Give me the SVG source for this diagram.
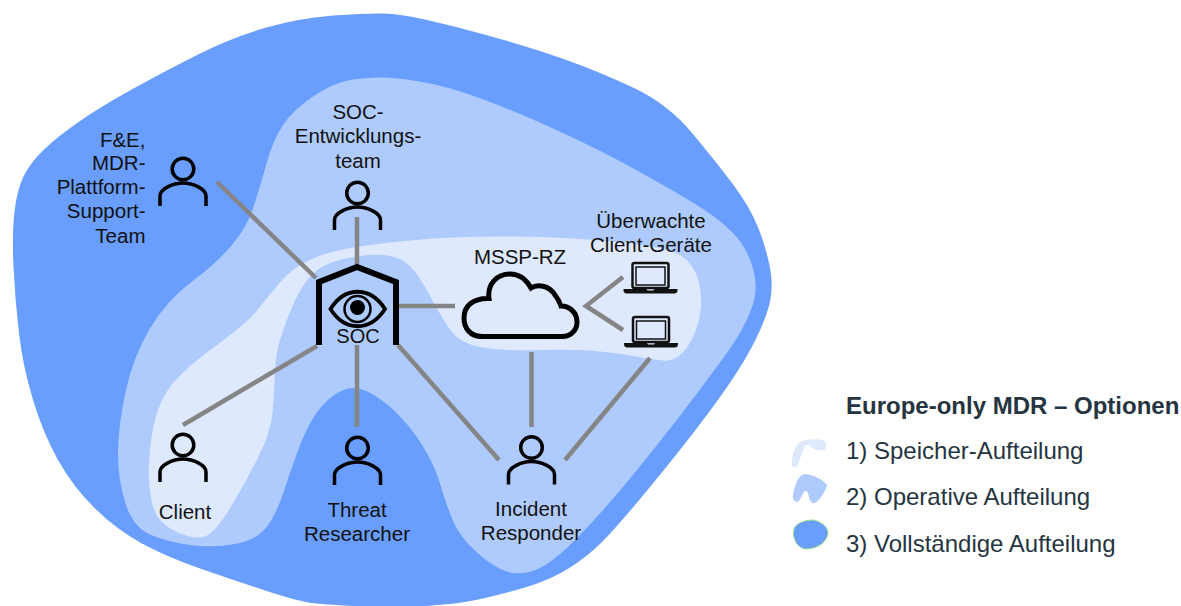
<svg xmlns="http://www.w3.org/2000/svg" width="1181" height="606" viewBox="0 0 1181 606">
<style>
text{font-family:"Liberation Sans",Arial,sans-serif;font-size:20.5px;fill:#111;text-anchor:middle}
.r{text-anchor:end}
.lg{fill:#25343f;text-anchor:start;font-size:24px}
.c{stroke:#858585;stroke-width:4.500;fill:none}
.p{fill:none;stroke:#000;stroke-width:3.500}
.lap{fill:none;stroke:#111}
</style>
<defs>
<g id="person"><circle cx="0" cy="0" r="10.800" class="p"/><path class="p" d="M-23 37V27C-23 20-10 14 0 14C10 14 23 20 23 27V37"/></g>
<g id="laptop"><rect x="-18" y="-24" width="36" height="25" rx="2" class="lap" stroke-width="2.500"/><rect x="-14.500" y="-20" width="29" height="18" class="lap" stroke-width="1.500"/><path d="M-27 2H-4L-3 3.500H3L4 2H27V3C27 5 26 6.500 24 6.500H-24C-26 6.500-27 5-27 3Z" fill="#111"/></g>
</defs>
<g id="regions">
<path fill="#699eff" d="M13.500 266.500Q12 233 14.500 211.500Q17 190 23.500 176.500Q30 163 43.500 150Q57 137 78.500 122Q100 107 133.500 88.500Q167 70 200 53.500Q233 37 266.500 27.500Q300 18 333.500 15.500Q367 13 383.500 13.500Q400 14 425 19.500Q450 25 491.500 36.500Q533 48 566.500 60Q600 72 634 88Q668 104 692.500 133.500Q717 163 733.500 185Q750 207 758.500 228.500Q767 250 770.500 271Q774 292 767 312.500Q760 333 746.500 356.500Q733 380 708 413.500Q683 447 650 487Q617 527 602 542Q587 557 568.500 568.500Q550 580 525 587.500Q500 595 478.500 599.500Q457 604 426 606Q395 608 364 606.500Q333 605 316.500 603.500Q300 602 266.500 591Q233 580 200 568.500Q167 557 142 543.500Q117 530 95 508.500Q73 487 58 460Q43 433 33 400Q23 367 19 333.500Q15 300 13.500 266.500Z"/>
<path fill="#afcbfe" d="M350 80Q367 77 383.500 77.500Q400 78 425 82.500Q450 87 483.500 99.500Q517 112 558.500 131Q600 150 633.500 168.500Q667 187 692 202Q717 217 732 232Q747 247 753 268.500Q759 290 751 310Q743 330 730 348.500Q717 367 692 400Q667 433 637 470Q607 507 580 535Q553 563 536.500 569.500Q520 576 506.500 571.500Q493 567 476.500 552Q460 537 453.500 522Q447 507 440 483.500Q433 460 416.500 436.500Q400 413 380 399Q360 385 346.500 389Q333 393 321.500 406.500Q310 420 301.500 441.500Q293 463 285 488Q277 513 267 526.500Q257 540 235 544Q213 548 190 545Q167 542 150 534.500Q133 527 125.500 503.500Q118 480 118 453.500Q118 427 125.500 392Q133 357 150 328.500Q167 300 192 281.500Q217 263 232 245Q247 227 253.500 207Q260 187 266.500 163.500Q273 140 283 125Q293 110 313 96.500Q333 83 350 80Z"/>
<path fill="#dfe9fe" d="M152.500 505Q148 487 149 463.500Q150 440 155 420Q160 400 171.500 385Q183 370 215 346.500Q247 323 257 310.500Q267 298 280 282.500Q293 267 313 258.500Q333 250 366.500 245.500Q400 241 433.500 238.500Q467 236 517 236.500Q567 237 617 242Q667 247 680 255Q693 263 698 279Q703 295 700 314Q697 333 687 347.500Q677 362 663.500 360.500Q650 359 633.500 356Q617 353 595 351Q573 349 536.500 350Q500 351 480 347Q460 343 451.500 331.500Q443 320 431.500 298.500Q420 277 411.500 267.500Q403 258 388 255.500Q373 253 348 258Q323 263 311.500 275Q300 287 290 312Q280 337 277.500 350Q275 363 274.500 381.500Q274 400 272 416.500Q270 433 258.500 456.500Q247 480 232 505Q217 530 207 535.500Q197 541 177 532Q157 523 152.500 505Z"/>
</g>
<g id="connectors">
<path class="c" d="M217 182L316 278"/>
<path class="c" d="M357 217V264"/>
<path class="c" d="M398 306H455"/>
<path class="c" d="M317 346L183 425"/>
<path class="c" d="M357 345V427"/>
<path class="c" d="M398 345L499 460"/>
<path class="c" d="M531.500 352V427"/>
<path class="c" d="M650 358L565 460"/>
<path class="c" d="M623 277L586 306L623 330"/>
</g>
<g id="soc">
<path fill="none" stroke="#000" stroke-width="6" d="M319 345V282L357 267L396 282V345"/>
<path fill="none" stroke="#000" stroke-width="3.800" d="M330.500 309C345 286 370 286 385 309C370 332 345 332 330.500 309Z"/>
<circle cx="357.500" cy="309" r="13" fill="none" stroke="#000" stroke-width="2.500"/>
<circle cx="357.500" cy="307.500" r="7.500" fill="#000"/>
<text x="358" y="343" style="font-size:20px">SOC</text>
</g>
<g id="fe"><use href="#person" x="183" y="169"/><text class="r" x="145.500" y="147">F&amp;E,</text><text class="r" x="145.500" y="170">MDR-</text><text class="r" x="145.500" y="194">Plattform-</text><text class="r" x="145.500" y="218">Support-</text><text class="r" x="145.500" y="243">Team</text></g>
<g id="dev"><use href="#person" x="357.500" y="193"/><text x="358" y="119">SOC-</text><text x="358" y="143">Entwicklungs-</text><text x="358" y="168">team</text></g>
<g id="mssp"><text x="520" y="264">MSSP-RZ</text><path fill="none" stroke="#000" stroke-width="5" d="M482 336.500C470 336.500 464 328 464 318C464 306 473 298 489 298.500C487 284 497 274 510 274C519 274 526 279 531 288C537 284 549 285 555 295C559 300 560 303 561 306C570 306 577 313 577 322C577 331 570 336.500 562 336.500Z"/></g>
<g id="clients"><text x="651" y="228">Überwachte</text><text x="651" y="252">Client-Geräte</text><use href="#laptop" x="650.500" y="287"/><use href="#laptop" x="651" y="341"/></g>
<g id="client"><use href="#person" x="183" y="445"/><text x="185" y="518.500">Client</text></g>
<g id="researcher"><use href="#person" x="357.500" y="448"/><text x="357" y="517">Threat</text><text x="357" y="541">Researcher</text></g>
<g id="responder"><use href="#person" x="531.500" y="447.500"/><text x="531" y="516">Incident</text><text x="531" y="540">Responder</text></g>
<g id="legend">
<text class="lg" x="846" y="414" style="font-weight:700">Europe-only MDR – Optionen</text>
<path fill="#dfe9fe" d="M800 442C803 439 820 438 825 441C827 444 826 449 825 450C820 451 814 450 812 448C811 445 809 444 806 445C802 450 801 458 798 464C796 468 793 468 792 465C791 460 793 449 800 442Z"/>
<text class="lg" x="846" y="459">1) Speicher-Aufteilung</text>
<path fill="#afcbfe" d="M795 487C797 480 800 474 806 474C813 475 824 480 827 485C826 491 819 501 815 503C812 504 810 501 809 497C808 493 807 490 805 491C802 493 801 501 797 502C794 502 792 498 793 495C793 492 794 490 795 487Z"/>
<text class="lg" x="846" y="505">2) Operative Aufteilung</text>
<path fill="#699eff" stroke="#9be08a" stroke-width="1" d="M794 529C795 525 802 520 813 520C820 521 827 526 828 532C828 537 824 543 820 545C815 548 810 549 805 549C800 548 796 544 795 540C793 536 793 532 794 529Z"/>
<text class="lg" x="846" y="552">3) Vollständige Aufteilung</text>
</g>
</svg>
